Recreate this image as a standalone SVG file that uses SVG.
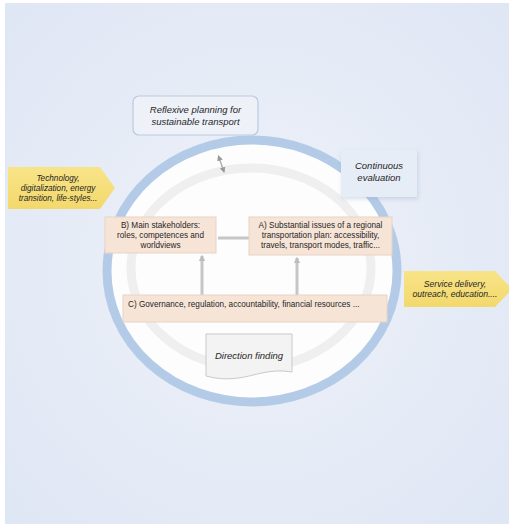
<svg xmlns="http://www.w3.org/2000/svg" width="509" height="524" viewBox="0 0 509 524">
<defs>
<radialGradient id="bg" cx="0.5" cy="0.5" r="0.7">
<stop offset="0" stop-color="#eef2f9"/>
<stop offset="1" stop-color="#dfe6f4"/>
</radialGradient>
<linearGradient id="yel" x1="0" y1="0" x2="0" y2="1">
<stop offset="0" stop-color="#f8e488"/>
<stop offset="1" stop-color="#f3d86c"/>
</linearGradient>
<filter id="sh" x="-20%" y="-20%" width="140%" height="150%">
<feDropShadow dx="1" dy="2" stdDeviation="2" flood-color="#8fa3c0" flood-opacity="0.35"/>
</filter>
<marker id="ah" viewBox="0 0 10 10" refX="8" refY="5" markerWidth="2.2" markerHeight="2.2" orient="auto-start-reverse">
<path d="M0,0 L10,5 L0,10 z" fill="#bdbdbd"/>
</marker>
<marker id="ah2" viewBox="0 0 10 10" refX="8" refY="5" markerWidth="4.5" markerHeight="4.5" orient="auto-start-reverse">
<path d="M0,0 L10,5 L0,10 z" fill="#9a9a9a"/>
</marker>
<style>
text{font-family:"Liberation Sans",Arial,sans-serif;fill:#262626;text-anchor:middle}
.it{font-style:italic;font-size:9.5px}
.bx{font-size:8.2px}
.sm{font-style:italic;font-size:8.2px}
.sv{font-style:italic;font-size:8.6px}
.peach{fill:#f6e4d7;stroke:#ead3c3;stroke-width:1}
.conn{stroke:#c6c6c6;stroke-width:3;fill:none}
</style>
</defs>
<rect x="0" y="0" width="509" height="524" fill="#ffffff"/>
<rect x="5" y="3" width="504" height="521" fill="url(#bg)"/>

<g id="ring">
<ellipse cx="252" cy="271" rx="145" ry="131" fill="#fdfdfe" stroke="#b4cbe8" stroke-width="9"/>
<ellipse cx="251" cy="268" rx="120" ry="100" fill="none" stroke="#efefef" stroke-width="9"/>
</g>

<g id="connectors">
<line class="conn" x1="218" y1="238" x2="250" y2="238"/>
<line class="conn" x1="202" y1="297" x2="202" y2="256" marker-end="url(#ah)"/>
<line class="conn" x1="297" y1="297" x2="297" y2="258" marker-end="url(#ah)"/>
<line x1="218.5" y1="156" x2="224" y2="172" stroke="#a8a8a8" stroke-width="1.3" marker-start="url(#ah2)" marker-end="url(#ah2)"/>
</g>

<g id="reflexive">
<rect x="133" y="96" width="125" height="39" rx="6" fill="#eef2f8" stroke="#b9c9e0" stroke-width="1.2"/>
<text class="it" x="195.5" y="113">Reflexive planning for</text>
<text class="it" x="195.5" y="125">sustainable transport</text>
</g>

<g id="evaluation">
<rect x="341" y="150" width="76" height="47" fill="#e6edf7" filter="url(#sh)"/>
<text class="it" x="379" y="169">Continuous</text>
<text class="it" x="379" y="181">evaluation</text>
</g>

<g id="technology">
<polygon points="8,167 100,167 115,188 100,209 8,209" fill="url(#yel)"/>
<text class="sm" x="58" y="181">Technology,</text>
<text class="sm" x="58" y="191">digitalization, energy</text>
<text class="sm" x="58" y="201">transition, life-styles...</text>
</g>

<g id="service">
<polygon points="404,271 495,271 512,289 495,307 404,307" fill="url(#yel)"/>
<text class="sv" x="455" y="287">Service delivery,</text>
<text class="sv" x="455" y="297">outreach, education....</text>
</g>

<g id="nodeB">
<rect class="peach" x="105" y="217" width="111" height="36"/>
<text class="bx" x="160.5" y="228">B) Main stakeholders:</text>
<text class="bx" x="160.5" y="238">roles, competences and</text>
<text class="bx" x="160.5" y="248">worldviews</text>
</g>

<g id="nodeA">
<rect class="peach" x="249" y="217" width="143" height="38"/>
<text class="bx" x="320.5" y="227.5">A) Substantial issues of a regional</text>
<text class="bx" x="320.5" y="237.5">transportation plan: accessibility,</text>
<text class="bx" x="320.5" y="247.5">travels, transport modes, traffic...</text>
</g>

<g id="nodeC">
<rect class="peach" x="123" y="295" width="264" height="27"/>
<text class="bx" x="128" y="307" style="text-anchor:start">C)  Governance, regulation, accountability, financial resources ...</text>
</g>

<g id="direction">
<path d="M206,334 H292 V372 C270,368 255,376 238,378 C224,380 214,378 206,376 Z" fill="#f3f3f3" stroke="#c9c9c9" stroke-width="1"/>
<text class="it" x="249" y="359">Direction finding</text>
</g>
</svg>
